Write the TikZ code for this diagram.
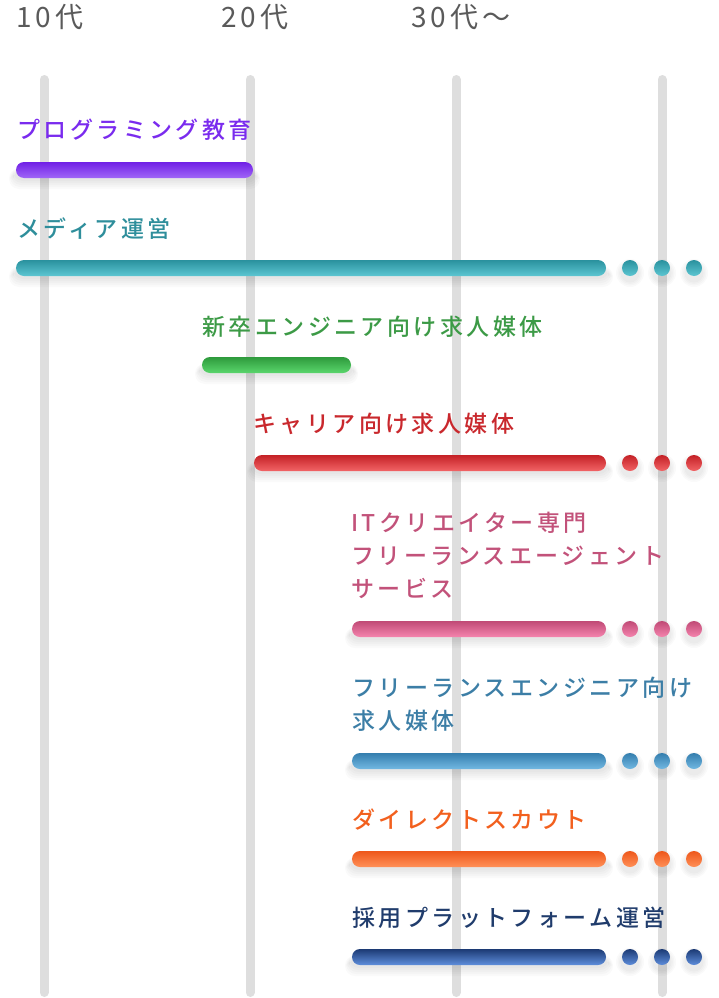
\documentclass[tikz,border=0pt]{standalone}
\usepackage{fontspec}
\setmainfont{Noto Sans CJK JP Medium}[LetterSpace=15]
\newfontfamily\headfont{Noto Sans CJK JP}[LetterSpace=14]
\usetikzlibrary{positioning}

\definecolor{linegray}{HTML}{DEDEDE}
\definecolor{headgray}{HTML}{5A5A5A}
\definecolor{progtxt}{HTML}{7A2BEE}
\definecolor{progtop}{HTML}{7020E6}
\definecolor{progbot}{HTML}{A066F7}
\definecolor{mediatxt}{HTML}{2E8E9B}
\definecolor{mediatop}{HTML}{2A919E}
\definecolor{mediabot}{HTML}{5CC6D2}
\definecolor{newtxt}{HTML}{3C9A46}
\definecolor{newtop}{HTML}{2E9A3C}
\definecolor{newbot}{HTML}{5AD66C}
\definecolor{cartxt}{HTML}{C9282D}
\definecolor{cartop}{HTML}{C42126}
\definecolor{carbot}{HTML}{F26466}
\definecolor{ittxt}{HTML}{C2527A}
\definecolor{ittop}{HTML}{C04A76}
\definecolor{itbot}{HTML}{F584AE}
\definecolor{freetxt}{HTML}{3C7EA6}
\definecolor{freetop}{HTML}{347EAE}
\definecolor{freebot}{HTML}{72B8E2}
\definecolor{scouttxt}{HTML}{F2601E}
\definecolor{scouttop}{HTML}{EE571A}
\definecolor{scoutbot}{HTML}{FF9058}
\definecolor{rectxt}{HTML}{203C6C}
\definecolor{rectop}{HTML}{1C3A74}
\definecolor{recbot}{HTML}{5E8EDC}

% bar with soft shadow: top colour, bottom colour, x from, x to, y
\newcommand{\svcbar}[5]{%
  \foreach \k in {1,...,5}
    \fill[black, opacity=0.018, rounded corners=10] (#3-\k-2, #5+1-\k*0.5) rectangle (#4+\k+2, #5+9+\k*2);
  \shade[top color=#1, bottom color=#2, rounded corners=8] (#3, #5-8) rectangle (#4, #5+8);
}
% three dots after an ongoing bar
\newcommand{\svcdots}[3]{%
  \foreach \dx in {630, 662, 694} {
    \foreach \k in {1,...,4}
      \fill[black, opacity=0.018] (\dx, #3+5) circle (8+\k*1.5);
    \shade[top color=#1, bottom color=#2] (\dx, #3) circle (8);
  }
}

\begin{document}
\begin{tikzpicture}[x=1pt, y=-1pt,
    grid/.style={draw=linegray, line width=9pt, line cap=round},
    head/.style={anchor=west, inner sep=0, text=headgray, font=\headfont\fontsize{28}{32}\selectfont},
    svc/.style={anchor=west, inner sep=0, align=left, text=#1, font=\fontsize{23}{33}\selectfont}]
  \useasboundingbox (0,0) rectangle (718,998);

  % age columns
  \path (16, 17) node[head] (h10){10代}
        (221, 17) node[head] (h20){20代}
        (411, 17) node[head] (h30){30代〜};
  \foreach \gx [count=\i] in {44, 250, 456, 662} {
    \coordinate (g\i top) at (\gx, 79.5);
    \coordinate (g\i bot) at (\gx, 992.5);
    \draw[grid] (g\i top) -- (g\i bot);
  }

  % services
  \path (17, 130) node[svc=progtxt] (prog){プログラミング教育}
        (17, 229) node[svc=mediatxt] (media){メディア運営}
        (202, 327) node[svc=newtxt] (newgrad){新卒エンジニア向け求人媒体}
        (253, 424) node[svc=cartxt] (career){キャリア向け求人媒体}
        (351, 555) node[svc=ittxt] (itfree){ITクリエイター専門\\フリーランスエージェント\\サービス}
        (352, 704) node[svc=freetxt] (freeeng){フリーランスエンジニア向け\\求人媒体}
        (352, 820) node[svc=scouttxt] (scout){ダイレクトスカウト}
        (352, 918) node[svc=rectxt] (recruit){採用プラットフォーム運営};

  \svcbar{progtop}{progbot}{16}{253}{170}
  \svcbar{mediatop}{mediabot}{16}{606}{268}
  \svcdots{mediatop}{mediabot}{268}
  \svcbar{newtop}{newbot}{202}{351}{365}
  \svcbar{cartop}{carbot}{254}{606}{463}
  \svcdots{cartop}{carbot}{463}
  \svcbar{ittop}{itbot}{352}{606}{629}
  \svcdots{ittop}{itbot}{629}
  \svcbar{freetop}{freebot}{352}{606}{761}
  \svcdots{freetop}{freebot}{761}
  \svcbar{scouttop}{scoutbot}{352}{606}{859}
  \svcdots{scouttop}{scoutbot}{859}
  \svcbar{rectop}{recbot}{352}{606}{957}
  \svcdots{rectop}{recbot}{957}
\end{tikzpicture}
\end{document}
